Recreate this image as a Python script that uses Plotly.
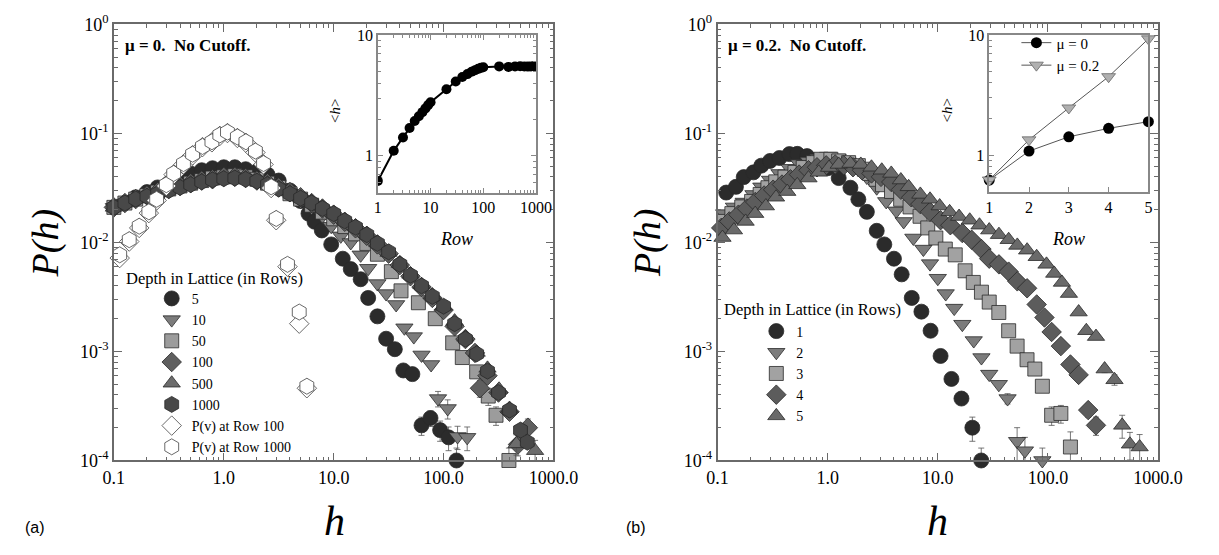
import plotly.graph_objects as go

# ---------------- Panel (a): mu = 0 ----------------
h_a5 = [0.1, 0.126, 0.158, 0.2, 0.25, 0.316, 0.4, 0.5, 0.63, 0.79, 1.0, 1.26, 1.58, 2.0, 2.5, 3.16, 4.0, 5.0,
        5.9, 6.7, 7.8, 9.5, 12.1, 14.3, 17.6, 20.6, 25, 30, 36, 43, 52, 63, 76, 93, 111, 131]
p_a5 = [0.021, 0.023, 0.026, 0.029, 0.032, 0.035, 0.039, 0.043, 0.046, 0.048, 0.049, 0.049, 0.047, 0.045, 0.042,
        0.037, 0.030, 0.024, 0.0184, 0.0155, 0.0129, 0.0096, 0.0071, 0.0057, 0.0046, 0.0031, 0.0021, 0.00131,
        0.00105, 0.00067, 0.00062, 0.00021, 0.000245, 0.00019, 0.000163, 0.0001]
e_a5 = [0]*30 + [0.00003, 0.00004, 0.00004, 0.00004, 0.00004, 0.00003]

h_a10 = [0.1, 0.126, 0.158, 0.2, 0.25, 0.316, 0.4, 0.5, 0.63, 0.79, 1.0, 1.26, 1.58, 2.0, 2.5, 3.16, 4.0, 5.0,
         6.3, 7.9, 9.5, 11.6, 14.3, 17.6, 20.6, 25, 30, 37, 44, 53.6, 63, 77, 89, 109, 134, 164]
p_a10 = [0.021, 0.023, 0.025, 0.027, 0.029, 0.031, 0.033, 0.035, 0.037, 0.039, 0.041, 0.042, 0.041, 0.039, 0.036,
         0.032, 0.028, 0.024, 0.021, 0.0175, 0.0141, 0.0115, 0.0100, 0.0077, 0.0058, 0.0042, 0.0034, 0.0027,
         0.00165, 0.00137, 0.00093, 0.00076, 0.00037, 0.0003, 0.000166, 0.000163]
e_a10 = [0]*30 + [0, 0, 0.00006, 0.00006, 0.00004, 0.00004]

h_a50 = [0.1, 0.126, 0.158, 0.2, 0.25, 0.316, 0.4, 0.5, 0.63, 0.79, 1.0, 1.26, 1.58, 2.0, 2.5, 3.16, 4.0, 5.0,
         6.3, 7.9, 10, 12.6, 15.8, 20, 25, 33.5, 41, 59, 84, 121, 148, 200, 255, 300, 393]
p_a50 = [0.021, 0.023, 0.025, 0.027, 0.029, 0.031, 0.033, 0.035, 0.037, 0.039, 0.040, 0.041, 0.040, 0.038, 0.035,
         0.032, 0.028, 0.025, 0.022, 0.019, 0.0165, 0.014, 0.012, 0.0098, 0.0078, 0.0054, 0.0036, 0.0028,
         0.0020, 0.0012, 0.00088, 0.00065, 0.00039, 0.00026, 0.0001]
e_a50 = [0]*31 + [0, 0.00007, 0.00005, 0.00003]

h_a100 = [0.1, 0.126, 0.158, 0.2, 0.25, 0.316, 0.4, 0.5, 0.63, 0.79, 1.0, 1.26, 1.58, 2.0, 2.5, 3.16, 4.0, 5.0,
          6.3, 7.9, 10, 12.6, 15.8, 20, 25, 31.6, 40, 50, 63, 79, 100, 126, 158, 193, 214, 251, 316, 398, 475, 585]
p_a100 = [0.021, 0.023, 0.025, 0.027, 0.029, 0.031, 0.033, 0.035, 0.037, 0.038, 0.040, 0.040, 0.039, 0.037, 0.035,
          0.032, 0.029, 0.026, 0.023, 0.0205, 0.018, 0.0155, 0.0135, 0.0115, 0.0096, 0.0079, 0.0062, 0.0049,
          0.0039, 0.0031, 0.0024, 0.0017, 0.0013, 0.00097, 0.00046, 0.0006, 0.00042, 0.00028, 0.00014, 0.0002]
e_a100 = [0]*34 + [0.00008, 0, 0, 0, 0.00003, 0.00004]

h_a500 = [0.1, 0.126, 0.158, 0.2, 0.25, 0.316, 0.4, 0.5, 0.63, 0.79, 1.0, 1.26, 1.58, 2.0, 2.5, 3.16, 4.0, 5.0,
          6.3, 7.9, 10, 12.6, 15.8, 20, 25, 31.6, 40, 50, 63, 79, 100, 126, 158, 200, 251, 320, 398, 460, 680]
p_a500 = [0.021, 0.023, 0.025, 0.027, 0.029, 0.031, 0.033, 0.035, 0.037, 0.038, 0.039, 0.0395, 0.039, 0.037, 0.035,
          0.032, 0.029, 0.026, 0.0235, 0.021, 0.0185, 0.016, 0.014, 0.012, 0.0099, 0.0081, 0.0064, 0.0051,
          0.0041, 0.0033, 0.0026, 0.0019, 0.00135, 0.00098, 0.0007, 0.00045, 0.0003, 0.000142, 0.000123]
e_a500 = [0]*37 + [0.00003, 0.00003]

h_a1000 = [0.1, 0.126, 0.158, 0.2, 0.25, 0.316, 0.4, 0.5, 0.63, 0.79, 1.0, 1.26, 1.58, 2.0, 2.5, 3.16, 4.0, 5.0,
           6.3, 7.9, 10, 12.6, 15.8, 20, 25, 31.6, 40, 50, 63, 79, 100, 126, 158, 200, 251, 316, 398, 501, 578]
p_a1000 = [0.021, 0.023, 0.025, 0.0265, 0.028, 0.030, 0.032, 0.034, 0.036, 0.0375, 0.0385, 0.039, 0.038, 0.0365,
           0.034, 0.031, 0.028, 0.0255, 0.023, 0.0205, 0.0184, 0.0158, 0.0138, 0.0118, 0.0098, 0.0082, 0.0063,
           0.0050, 0.0040, 0.0032, 0.0026, 0.0018, 0.0013, 0.00095, 0.00066, 0.00042, 0.00029, 0.00019, 0.000147]

h_pv = [0.113, 0.138, 0.17, 0.208, 0.245, 0.30, 0.35, 0.43, 0.52, 0.64, 0.78, 0.92, 1.08, 1.33, 1.59, 1.94,
        2.3, 2.7, 3.0, 3.8, 4.86, 5.7]
p_pv100 = [0.0072, 0.0102, 0.0136, 0.0186, 0.0243, 0.0330, 0.042, 0.052, 0.063, 0.075, 0.083, 0.095, 0.101,
           0.091, 0.082, 0.067, 0.052, 0.0316, 0.0160, 0.0060, 0.0018, 0.00046]
p_pv1000 = [0.0077, 0.0106, 0.0141, 0.0191, 0.0249, 0.0339, 0.043, 0.053, 0.0646, 0.076, 0.084, 0.097, 0.103,
            0.093, 0.084, 0.069, 0.053, 0.0324, 0.0166, 0.0063, 0.0023, 0.00048]

rows_a = [1, 2, 3, 4, 5, 6, 7, 8, 9, 10, 20, 30, 40, 50, 60, 70, 80, 90, 100, 200, 300, 400, 500, 600, 700,
          800, 900, 1000]
hmean_a = [0.62, 1.1, 1.42, 1.7, 1.94, 2.13, 2.3, 2.47, 2.63, 2.78, 3.56, 4.13, 4.5, 4.75, 4.97, 5.12, 5.25,
           5.35, 5.42, 5.5, 5.45, 5.5, 5.52, 5.5, 5.48, 5.5, 5.52, 5.55]

# ---------------- Panel (b): mu = 0.2 ----------------
h_b1 = [0.12, 0.147, 0.173, 0.212, 0.25, 0.30, 0.365, 0.45, 0.53, 0.65, 0.8, 1.0, 1.26, 1.61, 1.9, 2.27, 2.79,
        3.27, 4.0, 4.7, 5.8, 7.1, 8.6, 10.6, 13.3, 16.4, 20.6, 24.8]
p_b1 = [0.0287, 0.0324, 0.0398, 0.044, 0.0507, 0.056, 0.0596, 0.0647, 0.065, 0.062, 0.056, 0.048, 0.039, 0.0318,
        0.0249, 0.0191, 0.0128, 0.0096, 0.0071, 0.0051, 0.0031, 0.00232, 0.00155, 0.00091, 0.00056, 0.00037,
        0.0002, 0.0001]
e_b1 = [0]*24 + [0, 0.00004, 0.00005, 0.00003]

h_b2 = [0.115, 0.141, 0.173, 0.212, 0.25, 0.30, 0.365, 0.45, 0.55, 0.67, 0.82, 1.01, 1.23, 1.52, 1.86, 2.27, 2.79,
        3.4, 4.2, 4.9, 6.0, 7.4, 8.5, 10.0, 11.8, 14.1, 16.7, 21.2, 24.9, 29.3, 35.8, 43, 52.5, 61.8, 89]
p_b2 = [0.0184, 0.0212, 0.0235, 0.0276, 0.0324, 0.0374, 0.043, 0.048, 0.053, 0.056, 0.0596, 0.062, 0.0596, 0.055,
        0.0487, 0.0398, 0.0318, 0.0238, 0.0195, 0.0156, 0.011, 0.0087, 0.0064, 0.0047, 0.0034, 0.0025, 0.00178,
        0.00126, 0.00088, 0.00062, 0.0005, 0.00037, 0.00015, 0.000123, 0.0001]
e_b2 = [0]*29 + [0, 0.00003, 0.00004, 0.00005, 0.00004, 0.00003]

h_b3 = [0.115, 0.135, 0.166, 0.204, 0.244, 0.287, 0.338, 0.41, 0.505, 0.6, 0.74, 0.87, 1.07, 1.26, 1.55, 1.9,
        2.15, 2.4, 2.75, 3.15, 3.8, 4.6, 5.6, 6.9, 8.1, 9.6, 11.7, 14.4, 17.7, 21, 24.9, 29.3, 35.8, 44, 52.5,
        64.6, 76, 89, 108, 131, 160]
p_b3 = [0.0156, 0.0184, 0.0212, 0.0238, 0.0276, 0.0318, 0.036, 0.0398, 0.044, 0.0487, 0.054, 0.058, 0.058, 0.056,
        0.054, 0.0507, 0.047, 0.043, 0.038, 0.0339, 0.0294, 0.0249, 0.0212, 0.0174, 0.0136, 0.011, 0.0087,
        0.0077, 0.0055, 0.0043, 0.0035, 0.00284, 0.00228, 0.00155, 0.00112, 0.00084, 0.00069, 0.00048,
        0.00026, 0.00027, 0.000133]
e_b3 = [0]*37 + [0.00003, 0.00005, 0.00005, 0.00005]

h_b4 = [0.108, 0.128, 0.155, 0.185, 0.22, 0.265, 0.32, 0.385, 0.46, 0.55, 0.67, 0.8, 0.97, 1.17, 1.4, 1.7, 2.05,
        2.5, 3.05, 3.78, 4.62, 5.74, 6.94, 8.5, 10.6, 13.0, 16.7, 20.3, 24.9, 29.3, 35.9, 44, 52.7, 64.7, 79,
        93, 108, 131, 160, 190, 232, 273]
p_b4 = [0.0136, 0.0156, 0.018, 0.0205, 0.0235, 0.027, 0.0305, 0.034, 0.038, 0.042, 0.046, 0.049, 0.051, 0.052,
        0.051, 0.049, 0.046, 0.043, 0.040, 0.0359, 0.0305, 0.026, 0.0225, 0.0191, 0.016, 0.0144, 0.0122, 0.0106,
        0.0087, 0.0071, 0.0063, 0.0054, 0.0044, 0.0038, 0.0027, 0.00205, 0.00151, 0.00112, 0.00076, 0.00061,
        0.00029, 0.00021]
e_b4 = [0]*40 + [0.00004, 0.00004]

h_b5 = [0.111, 0.141, 0.18, 0.22, 0.275, 0.34, 0.43, 0.53, 0.67, 0.83, 1.03, 1.26, 1.61, 2.0, 2.5, 3.1, 3.78,
        4.62, 5.44, 6.94, 8.5, 10.4, 12.8, 15.6, 19.5, 23.9, 29.3, 35.9, 44, 52.7, 64.7, 79, 97, 114, 134, 155,
        190, 223, 273, 327, 402, 472, 555, 680]
p_b5 = [0.0111, 0.013, 0.0156, 0.0184, 0.0216, 0.026, 0.0293, 0.0338, 0.039, 0.044, 0.0487, 0.052, 0.053, 0.052,
        0.049, 0.046, 0.043, 0.0374, 0.0324, 0.0276, 0.0249, 0.0216, 0.0191, 0.0173, 0.016, 0.0144, 0.013,
        0.0118, 0.0106, 0.0094, 0.0085, 0.0074, 0.0063, 0.0052, 0.0043, 0.0034, 0.0023, 0.00155, 0.00137,
        0.00069, 0.00055, 0.00021, 0.000141, 0.000133]
e_b5 = [0]*39 + [0.00005, 0.00006, 0.00005, 0.00004, 0.00004]

rows_b = [1, 2, 3, 4, 5]
hmean_mu0 = [0.62, 1.08, 1.42, 1.67, 1.9]
hmean_mu02 = [0.62, 1.34, 2.47, 4.5, 9.3]

depth_labels_a = ["5", "10", "50", "100", "500", "1000", "P(v) at Row 100", "P(v) at Row 1000"]
depth_labels_b = ["1", "2", "3", "4", "5"]
inset_labels_b = ["\u03bc = 0", "\u03bc = 0.2"]

main_xticks = [0.1, 1, 10, 100, 1000]
main_xtext = ["0.1", "1.0", "10.0", "100.0", "1000.0"]
main_yticks = [1e-4, 1e-3, 1e-2, 1e-1, 1]
main_ytext = ["10<sup>-4</sup>", "10<sup>-3</sup>", "10<sup>-2</sup>", "10<sup>-1</sup>", "10<sup>0</sup>"]

# ---------------- geometry / styles ----------------
W, H = 1219, 555
def px(x):
    return x / W
def py(y):
    return 1 - y / H

SERIF = "Liberation Serif"
AXC = "#6a6a6a"

def minors(decades):
    return [m * 10 ** d for d in decades for m in range(2, 10)]

fig = go.Figure()

def add(h, p, name, sym, color, xa, ya, leg, size=15, err=None, lc="#2a2a2a"):
    kw = {}
    if err is not None:
        kw["error_y"] = dict(type="data", array=err, visible=True, color="#555", thickness=0.8, width=3)
    fig.add_trace(go.Scatter(
        x=h, y=p, mode="markers", name=name, xaxis=xa, yaxis=ya, legend=leg, cliponaxis=False,
        marker=dict(symbol=sym, size=size, color=color, line=dict(color=lc, width=0.8)), **kw))

# panel (a)
add(h_a5, p_a5, depth_labels_a[0], "circle", "#2b2b2b", "x", "y", "legend", err=e_a5)
add(h_a10, p_a10, depth_labels_a[1], "triangle-down", "#7c7c7c", "x", "y", "legend", err=e_a10)
add(h_a50, p_a50, depth_labels_a[2], "square", "#9c9c9c", "x", "y", "legend", size=14, err=e_a50)
add(h_a100, p_a100, depth_labels_a[3], "diamond", "#5f5f5f", "x", "y", "legend", err=e_a100)
add(h_a500, p_a500, depth_labels_a[4], "triangle-up", "#6c6c6c", "x", "y", "legend", err=e_a500)
add(h_a1000, p_a1000, depth_labels_a[5], "hexagon", "#484848", "x", "y", "legend", size=16)
add(h_pv, p_pv100, depth_labels_a[6], "diamond", "white", "x", "y", "legend", size=15, lc="#444")
add(h_pv, p_pv1000, depth_labels_a[7], "hexagon", "white", "x", "y", "legend", size=16, lc="#444")

# inset (a)
fig.add_trace(go.Scatter(x=rows_a, y=hmean_a, mode="lines+markers", xaxis="x2", yaxis="y2", showlegend=False,
                         line=dict(color="black", width=2), marker=dict(symbol="circle", size=10, color="black")))

# panel (b)
add(h_b1, p_b1, depth_labels_b[0], "circle", "#2b2b2b", "x3", "y3", "legend2", err=e_b1)
add(h_b2, p_b2, depth_labels_b[1], "triangle-down", "#7c7c7c", "x3", "y3", "legend2", err=e_b2)
add(h_b3, p_b3, depth_labels_b[2], "square", "#a2a2a2", "x3", "y3", "legend2", size=14, err=e_b3)
add(h_b4, p_b4, depth_labels_b[3], "diamond", "#5c5c5c", "x3", "y3", "legend2", err=e_b4)
add(h_b5, p_b5, depth_labels_b[4], "triangle-up", "#6a6a6a", "x3", "y3", "legend2", err=e_b5)

# inset (b)
fig.add_trace(go.Scatter(x=rows_b, y=hmean_mu0, mode="lines+markers", xaxis="x4", yaxis="y4", name=inset_labels_b[0],
                         legend="legend3", cliponaxis=False,
                         line=dict(color="#555", width=1), marker=dict(symbol="circle", size=11, color="black")))
fig.add_trace(go.Scatter(x=rows_b, y=hmean_mu02, mode="lines+markers", xaxis="x4", yaxis="y4", name=inset_labels_b[1],
                         legend="legend3", cliponaxis=False,
                         line=dict(color="#555", width=1),
                         marker=dict(symbol="triangle-down", size=12, color="#b0b0b0", line=dict(color="#666", width=0.8))))

tickfont = dict(family=SERIF, size=18, color="black")
main_common = dict(type="log", showline=True, linecolor=AXC, linewidth=1.5, mirror="ticks", ticks="inside",
                   ticklen=8, tickcolor=AXC, tickwidth=1, showgrid=False, zeroline=False, tickfont=tickfont,
                   tickmode="array")

xmain = dict(main_common, range=[-1, 3], tickvals=main_xticks, ticktext=main_xtext,
             minor=dict(ticks="inside", ticklen=4, tickcolor=AXC, tickvals=minors([-1, 0, 1, 2]), showgrid=False))
ymain = dict(main_common, range=[-4, 0], tickvals=main_yticks, ticktext=main_ytext,
             minor=dict(ticks="inside", ticklen=4, tickcolor=AXC, tickvals=minors([-4, -3, -2, -1]), showgrid=False))

inset_font = dict(family=SERIF, size=16, color="black")
ins_common = dict(showline=True, linecolor="#888", linewidth=1.5, ticks="inside", tickcolor="#888", ticklen=5,
                  showgrid=False, zeroline=False, tickfont=inset_font)

fig.update_layout(
    width=W, height=H, margin=dict(l=0, r=0, t=0, b=0), paper_bgcolor="white", plot_bgcolor="white",
    font=dict(family=SERIF, color="black"),
    xaxis=dict(xmain, domain=[px(106), px(559)], anchor="y"),
    yaxis=dict(ymain, domain=[py(467), py(13)], anchor="x"),
    xaxis3=dict(xmain, domain=[px(728), px(1182)], anchor="y3"),
    yaxis3=dict(ymain, domain=[py(467), py(13)], anchor="x3"),
    xaxis2=dict(ins_common, type="log", range=[0, 3], domain=[px(378), px(541)], anchor="y2", mirror="ticks",
                tickmode="array", tickvals=[1, 10, 100, 1000], ticktext=["1", "10", "100", "1000"],
                minor=dict(ticks="inside", ticklen=3, tickcolor="#888", tickvals=minors([0, 1, 2]))),
    yaxis2=dict(ins_common, type="log", range=[-0.304, 1], domain=[py(188), py(24)], anchor="x2", mirror="ticks",
                tickmode="array", tickvals=[1, 10], ticktext=["1", "10"],
                minor=dict(ticks="inside", ticklen=3, tickcolor="#888",
                           tickvals=[0.5, 0.6, 0.7, 0.8, 0.9] + minors([0]))),
    xaxis4=dict(ins_common, type="linear", range=[1, 5], domain=[px(1008), px(1172)], anchor="y4",
                tickmode="array", tickvals=[1, 2, 3, 4, 5], ticktext=["1", "2", "3", "4", "5"], mirror=True),
    yaxis4=dict(ins_common, type="log", range=[-0.304, 1], domain=[py(187), py(24)], anchor="x4", mirror=True,
                tickmode="array", tickvals=[1, 10], ticktext=["1", "10"],
                minor=dict(ticks="inside", ticklen=3, tickcolor="#888",
                           tickvals=[0.5, 0.6, 0.7, 0.8, 0.9] + minors([0]))),
    legend=dict(x=px(145), y=py(282), xanchor="left", yanchor="top", bgcolor="rgba(0,0,0,0)",
                font=dict(family=SERIF, size=14, color="black"), itemsizing="trace", tracegroupgap=0),
    legend2=dict(x=px(768), y=py(316), xanchor="left", yanchor="top", bgcolor="rgba(0,0,0,0)",
                 font=dict(family=SERIF, size=14, color="black"), itemsizing="trace"),
    legend3=dict(x=px(1036), y=py(15), xanchor="left", yanchor="top", bgcolor="rgba(0,0,0,0)",
                 font=dict(family=SERIF, size=15, color="black"), itemsizing="trace"),
)

NB = "\u00a0"
ann = [
    dict(x=px(115), y=py(35), text="<b>\u03bc = 0." + NB + NB + "No Cutoff.</b>", font=dict(family=SERIF, size=17, color="black")),
    dict(x=px(737), y=py(35), text="<b>\u03bc = 0.2." + NB + NB + "No Cutoff.</b>", font=dict(family=SERIF, size=17, color="black")),
    dict(x=px(116), y=py(277), text="Depth in Lattice (in Rows)", font=dict(family=SERIF, size=16.5, color="black")),
    dict(x=px(733), y=py(310), text="Depth in Lattice (in Rows)", font=dict(family=SERIF, size=16.5, color="black")),
    dict(x=px(12), y=py(537), text="(a)", font=dict(family="Liberation Sans", size=16, color="black")),
    dict(x=px(632), y=py(537), text="(b)", font=dict(family="Liberation Sans", size=16, color="black")),
]
for a in ann:
    a.update(xref="paper", yref="paper", xanchor="left", yanchor="middle", showarrow=False)
    fig.add_annotation(**a)

ann_c = [
    dict(x=px(36), y=py(240), text="<i>P(h)</i>", font=dict(family=SERIF, size=38, color="black"), textangle=-90),
    dict(x=px(656), y=py(240), text="<i>P(h)</i>", font=dict(family=SERIF, size=38, color="black"), textangle=-90),
    dict(x=px(333), y=py(530), text="<i>h</i>", font=dict(family=SERIF, size=42, color="black")),
    dict(x=px(955), y=py(530), text="<i>h</i>", font=dict(family=SERIF, size=42, color="black")),
    dict(x=px(334), y=py(103), text="&lt;<i>h</i>&gt;", font=dict(family=SERIF, size=15, color="black"), textangle=-90),
    dict(x=px(964), y=py(103), text="&lt;<i>h</i>&gt;", font=dict(family=SERIF, size=15, color="black"), textangle=-90),
    dict(x=px(459), y=py(236), text="<i>Row</i>", font=dict(family=SERIF, size=18, color="black")),
    dict(x=px(1090), y=py(236), text="<i>Row</i>", font=dict(family=SERIF, size=18, color="black")),
]
for a in ann_c:
    a.update(xref="paper", yref="paper", xanchor="center", yanchor="middle", showarrow=False)
    fig.add_annotation(**a)

fig.write_html("out.html", config={"displayModeBar": False},
               post_script="document.body.style.margin='0px';")
